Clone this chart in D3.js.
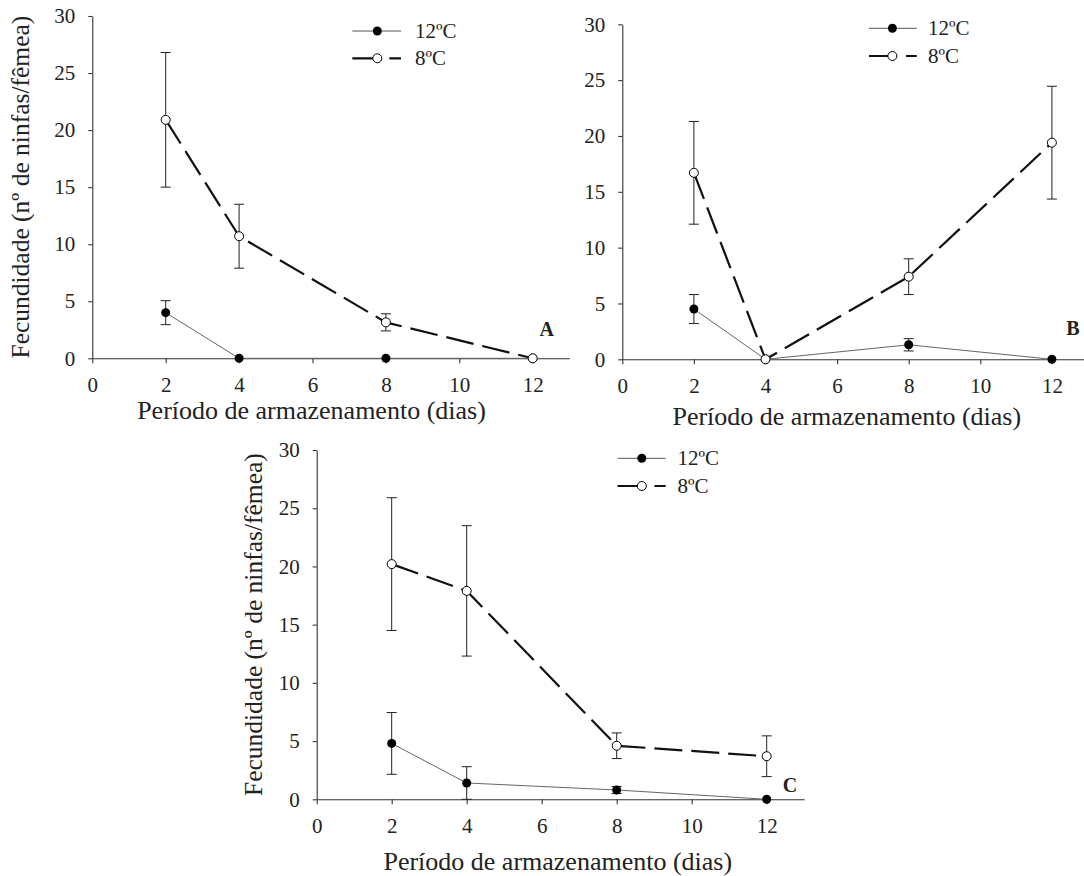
<!DOCTYPE html>
<html>
<head>
<meta charset="utf-8">
<script src="https://cdnjs.cloudflare.com/ajax/libs/d3/7.8.5/d3.min.js"></script>
<style>
  body { margin: 0; background: #fff; }
  svg text { font-family: "Liberation Serif", "Times New Roman", serif; fill: #222; }
</style>
</head>
<body>
<div id="chart"></div>
<script>
  // storage days (x) and tick values
  var days = [2, 4, 8, 12];
  var xTicks = [0, 2, 4, 6, 8, 10, 12];
  var yTicks = [0, 5, 10, 15, 20, 25, 30];
  var seriesNames = ["12ºC", "8ºC"];

  // panel A
  var a12 = [4.0, 0, 0, 0];
  var a12Err = [1.05, 0, 0, 0];
  var a8 = [20.9, 10.7, 3.15, 0];
  var a8Err = [5.9, 2.8, 0.75, 0];

  // panel B
  var b12 = [4.5, 0, 1.3, 0];
  var b12Err = [1.3, 0, 0.55, 0];
  var b8 = [16.7, 0, 7.4, 19.4];
  var b8Err = [4.6, 0, 1.6, 5.05];

  // panel C
  var c12 = [4.8, 1.4, 0.8, 0];
  var c12Err = [2.65, 1.4, 0.3, 0];
  var c8 = [20.2, 17.9, 4.6, 3.7];
  var c8Err = [5.7, 5.6, 1.1, 1.75];

  var W = 1084, H = 876;
  var svg = d3.select("#chart").append("svg")
    .attr("width", W).attr("height", H);

  // layout of each panel (pixels)
  var panels = [
    { label: "A", x0: 92.3, k: 36.7, yTop: 16, yBot: 358.3, s12: a12, e12: a12Err, s8: a8, e8: a8Err,
      yTitle: { x: 29 }, xTitle: { x: 311.5, y: 419 }, tag: { x: 546.7, y: 336 },
      legend: { x1: 352.3, x2: 401, xm: 377.3, xt: 415, rows: [31, 58.3] } },
    { label: "B", x0: 622.3, k: 35.8, yTop: 24.3, yBot: 359.3, s12: b12, e12: b12Err, s8: b8, e8: b8Err,
      yTitle: null, xTitle: { x: 846.8, y: 425 }, tag: { x: 1073, y: 335 },
      legend: { x1: 869, x2: 916.7, xm: 892.4, xt: 928, rows: [28.3, 56] } },
    { label: "C", x0: 316.7, k: 37.5, yTop: 450, yBot: 799.3, s12: c12, e12: c12Err, s8: c8, e8: c8Err,
      yTitle: { x: 262 }, xTitle: { x: 557.8, y: 870 }, tag: { x: 790, y: 791.7 },
      legend: { x1: 617.5, x2: 665.7, xm: 641.8, xt: 677.5, rows: [458.3, 486] } }
  ];

  var dash = "28,9";

  panels.forEach(function(p) {
    var x = d3.scaleLinear().domain([0, 13]).range([p.x0, p.x0 + 13 * p.k]);
    var y = d3.scaleLinear().domain([0, 30]).range([p.yBot, p.yTop]);
    var g = svg.append("g");

    // axes
    var xAxis = g.append("g")
      .attr("transform", "translate(0," + p.yBot + ")")
      .call(d3.axisBottom(x).tickValues(xTicks).tickSize(5).tickSizeOuter(0).tickPadding(14));
    var yAxis = g.append("g")
      .attr("transform", "translate(" + p.x0 + ",0)")
      .call(d3.axisLeft(y).tickValues(yTicks).tickSize(4).tickSizeOuter(0).tickPadding(13));
    [xAxis, yAxis].forEach(function(ax) {
      ax.attr("font-family", null).attr("font-size", null);
      ax.selectAll("path, line").attr("stroke", "#333").attr("stroke-width", 1.1);
      ax.selectAll("text").attr("fill", "#222").style("font-size", "21px");
    });

    var line = d3.line()
      .x(function(d, i) { return x(days[i]); })
      .y(function(d) { return y(d); });

    // 8ºC dashed line
    g.append("path")
      .datum(p.s8)
      .attr("fill", "none")
      .attr("stroke", "#111")
      .attr("stroke-width", 2.2)
      .attr("stroke-dasharray", dash)
      .attr("d", line);

    // 12ºC thin line
    g.append("path")
      .datum(p.s12)
      .attr("fill", "none")
      .attr("stroke", "#666")
      .attr("stroke-width", 1)
      .attr("d", line);

    // error bars
    function errBars(vals, errs) {
      days.forEach(function(d, i) {
        if (!errs[i]) return;
        var cx = x(d);
        var hi = y(vals[i] + errs[i]), lo = y(Math.max(0, vals[i] - errs[i]));
        g.append("line").attr("x1", cx).attr("x2", cx).attr("y1", hi).attr("y2", lo)
          .attr("stroke", "#222").attr("stroke-width", 1);
        g.append("line").attr("x1", cx - 5).attr("x2", cx + 5).attr("y1", hi).attr("y2", hi)
          .attr("stroke", "#222").attr("stroke-width", 1);
        g.append("line").attr("x1", cx - 5).attr("x2", cx + 5).attr("y1", lo).attr("y2", lo)
          .attr("stroke", "#222").attr("stroke-width", 1);
      });
    }
    errBars(p.s12, p.e12);
    errBars(p.s8, p.e8);

    // markers
    g.selectAll(".m12").data(p.s12).enter().append("circle")
      .attr("cx", function(d, i) { return x(days[i]); })
      .attr("cy", function(d) { return y(d); })
      .attr("r", 4.5)
      .attr("fill", "#000");
    g.selectAll(".m8").data(p.s8).enter().append("circle")
      .attr("cx", function(d, i) { return x(days[i]); })
      .attr("cy", function(d) { return y(d); })
      .attr("r", 4.5)
      .attr("fill", "#fff")
      .attr("stroke", "#000")
      .attr("stroke-width", 1);

    // axis titles
    g.append("text")
      .attr("x", p.xTitle.x)
      .attr("y", p.xTitle.y)
      .style("text-anchor", "middle")
      .style("font-size", "26px")
      .text("Período de armazenamento (dias)");

    if (p.yTitle) {
      g.append("text")
        .attr("transform", "rotate(-90)")
        .attr("x", -(p.yTop + p.yBot) / 2)
        .attr("y", p.yTitle.x)
        .style("text-anchor", "middle")
        .style("font-size", "25.5px")
        .text("Fecundidade (nº de ninfas/fêmea)");
    }

    // panel letter
    g.append("text")
      .attr("x", p.tag.x)
      .attr("y", p.tag.y)
      .style("text-anchor", "middle")
      .style("font-size", "20px")
      .style("font-weight", "bold")
      .text(p.label);

    // legend
    var L = p.legend;
    g.append("line").attr("x1", L.x1).attr("x2", L.x2).attr("y1", L.rows[0]).attr("y2", L.rows[0])
      .attr("stroke", "#555").attr("stroke-width", 1);
    g.append("circle").attr("cx", L.xm).attr("cy", L.rows[0]).attr("r", 4.5).attr("fill", "#000");
    g.append("line").attr("x1", L.x1).attr("x2", L.x2).attr("y1", L.rows[1]).attr("y2", L.rows[1])
      .attr("stroke", "#111").attr("stroke-width", 2.2).attr("stroke-dasharray", dash);
    g.append("circle").attr("cx", L.xm).attr("cy", L.rows[1]).attr("r", 4.5)
      .attr("fill", "#fff").attr("stroke", "#000").attr("stroke-width", 1);
    seriesNames.forEach(function(name, i) {
      g.append("text")
        .attr("x", L.xt)
        .attr("y", L.rows[i] + 7)
        .style("font-size", "21px")
        .text(name);
    });
  });
</script>
</body>
</html>
